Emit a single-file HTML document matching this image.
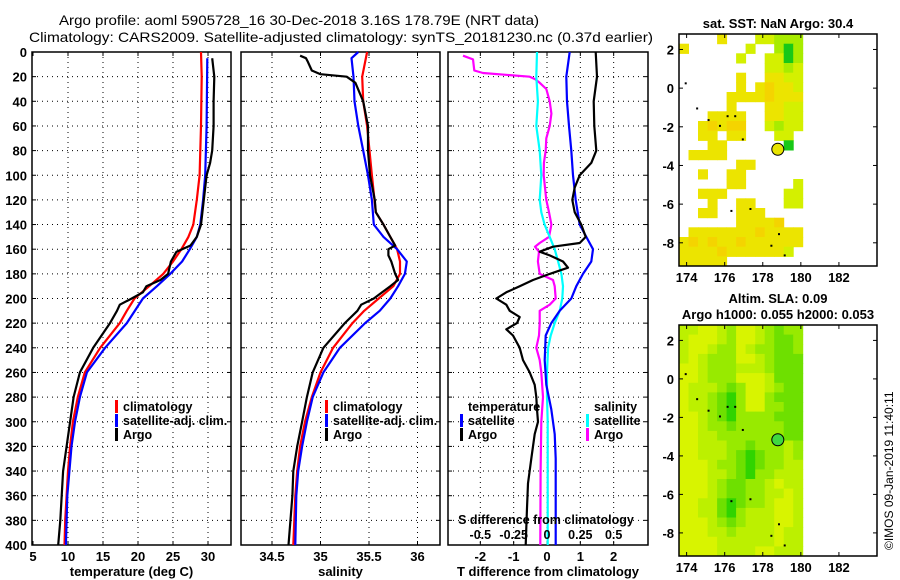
<!DOCTYPE html>
<html><head><meta charset="utf-8"><style>
html,body{margin:0;padding:0;background:#fff;}
svg{display:block;font-family:"Liberation Sans",sans-serif;}
text{font-weight:bold;fill:#000;}
</style></head><body>
<svg id="chart" width="900" height="580" viewBox="0 0 900 580" xmlns="http://www.w3.org/2000/svg">
<rect x="0" y="0" width="900" height="580" fill="#fff"/>
<text x="59" y="25" font-size="14" textLength="480" lengthAdjust="spacingAndGlyphs" style="font-weight:normal">Argo profile: aoml 5905728_16 30-Dec-2018 3.16S 178.79E (NRT data)</text>
<text x="29" y="42" font-size="14" textLength="624" lengthAdjust="spacingAndGlyphs" style="font-weight:normal">Climatology: CARS2009. Satellite-adjusted climatology: synTS_20181230.nc (0.37d earlier)</text>
<g id="layer"></g>
<text transform="translate(893,550) rotate(-90)" font-size="12" style="font-weight:normal">©IMOS 09-Jan-2019 11:40:11</text>
</svg>
<script>
// ---------- data ----------
const depthTicks=[0,20,40,60,80,100,120,140,160,180,200,220,240,260,280,300,320,340,360,380,400];
const tempTicks=[5,10,15,20,25,30];
const salTicks=[34.5,35,35.5,36];
const tdiffTicks=[-2,-1,0,1,2];
const sdiffTicks=[-0.5,-0.25,0,0.25,0.5];
const lonTicks=[174,176,178,180,182];
const latTicks=[2,0,-2,-4,-6,-8];

const tClimDepth=[0,20,60,100,120,140,150,160,170,180,190,200,210,220,240,260,280,300,320,340,360,380,400];
const tClimVal=[29,29.1,29,28.8,28.4,27.9,27.2,26.2,25,23.6,21.6,19.5,18.4,17.4,14.6,12.4,11.4,10.7,10.3,10.0,9.8,9.6,9.5];
const tSatDepth=[5,60,100,120,140,150,160,170,180,190,200,220,240,260,280,300,320,340,360,400];
const tSatVal=[29.9,29.8,29.6,29.3,28.9,28.4,27.4,26.3,24.6,22.7,20.7,18.4,15.3,12.7,11.7,11,10.5,10.2,9.9,9.7];
const tArgoDepth=[5,20,40,60,80,90,100,120,140,150,157,162,170,180,185,190,195,200,205,210,220,240,260,280,300,320,340,360,380,400];
const tArgoVal=[30.6,30.9,30.8,30.8,30.6,30.3,29.8,29.4,29,28.4,27.5,25.5,24.7,24.3,23.2,21.2,20.7,19.1,17.4,17,16,13.6,11.7,10.8,10.3,9.8,9.3,9.1,8.9,8.6];

const sClimDepth=[0,20,40,60,100,130,140,150,160,170,180,190,200,210,220,240,260,280,300,320,340,360,400];
const sClimVal=[35.48,35.43,35.44,35.48,35.53,35.57,35.65,35.72,35.79,35.82,35.82,35.75,35.6,35.45,35.33,35.13,35.0,34.91,34.84,34.79,34.76,34.74,34.72];
const sSatDepth=[0,5,20,40,60,80,100,120,140,150,160,170,180,190,200,210,220,240,260,280,300,320,340,360,400];
const sSatVal=[35.39,35.32,35.34,35.35,35.39,35.44,35.49,35.53,35.55,35.65,35.79,35.89,35.87,35.8,35.72,35.61,35.46,35.2,35.03,34.92,34.86,34.81,34.77,34.75,34.74];
const sArgoDepth=[3,5,8,15,18,20,25,40,60,80,100,120,130,140,150,157,160,165,170,180,185,190,200,205,210,220,240,260,280,300,320,340,360,400];
const sArgoVal=[34.79,34.85,34.87,34.91,35.0,35.27,35.36,35.44,35.49,35.49,35.51,35.56,35.57,35.65,35.72,35.77,35.7,35.7,35.73,35.77,35.8,35.72,35.55,35.42,35.38,35.25,35.03,34.92,34.86,34.81,34.76,34.72,34.71,34.67];

const dTSatDepth=[0,20,40,60,80,100,120,140,150,160,170,180,190,200,210,220,230,250,270,290,310,330,360,400];
const dTSatVal=[0.68,0.58,0.6,0.66,0.73,0.78,0.86,0.98,1.18,1.38,1.33,1.08,0.88,0.73,0.38,0.13,-0.04,-0.07,-0.02,0.13,0.23,0.26,0.26,0.26];
const dTArgoDepth=[0,20,40,60,80,90,100,110,120,130,140,150,155,158,162,165,170,175,180,185,190,195,200,205,210,215,220,225,230,240,250,260,270,280,290,300,310,330,350,370,400];
const dTArgoVal=[1.46,1.5,1.4,1.42,1.48,1.33,0.98,0.83,0.76,0.83,1.03,1.16,0.98,0.18,-0.22,0.08,0.48,0.63,0.08,-0.42,-0.82,-1.22,-1.52,-1.22,-1.12,-0.82,-0.9,-1.22,-1.02,-0.82,-0.72,-0.52,-0.37,-0.32,-0.3,-0.27,-0.37,-0.47,-0.57,-0.6,-0.64];
const dSSatDepth=[0,20,40,60,80,100,120,130,140,150,160,170,180,190,200,210,220,230,240,260,280,300,400];
const dSSatVal=[-0.075,-0.08,-0.068,-0.08,-0.055,-0.043,-0.055,-0.043,-0.018,0.02,0.058,0.083,0.108,0.12,0.115,0.095,0.058,0.028,0.008,0,0,0.005,0.005];
const dSArgoDepth=[3,6,15,17,20,22,25,30,40,50,60,70,80,90,100,120,130,140,150,155,158,162,170,180,185,190,200,205,210,220,230,240,250,260,280,300,340,400];
const dSArgoVal=[-0.63,-0.555,-0.545,-0.48,-0.13,-0.09,-0.055,-0.005,0.02,0.033,0.02,-0.005,-0.01,-0.023,-0.025,-0.005,0.015,0.033,0.015,-0.055,-0.09,-0.06,-0.068,-0.055,0.045,0.058,0.065,0.02,-0.055,-0.055,-0.06,-0.08,-0.055,-0.043,-0.03,-0.043,-0.048,-0.05];

const argoLon=178.79, argoLat=-3.16;
// SST map cells (0.5 deg, lon 173.6.., lat 2.8 downward)
const sstRows=[
"....y...llggg",
"y......l..gGg",
"......l..llGg",
".........llgl",
"......y..yyll",
"......y.yoyyl",
".....yyyyoyyy",
".....y...yyll",
"...yyyy..yyll",
"..yoyoo..lgll",
"..yy.yy...ll.",
"...yy......G.",
".yyyy........",
"......yy.....",
"..y..yy......",
".....yy.....l",
"..yyy......ll",
"...y..yy...ll",
"..yy..yyy....",
"......yyyyo..",
".yyyyyyyoyyyy",
"yoyoyyoyyyyyy",
"yyyyoyyyyyyl.",
"yyyyy........"];
const slaRows=[
"llyylgyylgmgg",
"lyyylgyylgmmg",
"lyylggylggmmg",
"lylgggyylgmmm",
"yylggglllgmmm",
"yylgggyyylmmm",
"ylllgmgyylgmm",
"yllgmGgyygmmm",
"yllgmGgyyggmm",
"yylgmGggggmmm",
"yylggmgggggmm",
"yyllgggggggmm",
"yylllggmggglg",
"yylllgmGmgglg",
"yyylggmGmggll",
"yyyllgmGgglll",
"yyylgmmgglyll",
"yyylgmmggllyl",
"yyllmGmgglyyl",
"yyllmGglllyyl",
"yyylgmglllyyl",
"yyyllgllllyll",
"yyyyllllllyll",
"yyyyllllyylll"];
const sstColors={y:"#ece400",o:"#f4d400",l:"#d4f000",g:"#a8ec00",G:"#18c818"};
const slaColors={y:"#d8f400",l:"#bcf000",g:"#98ea00",m:"#6ee000",G:"#30d400"};

// ---------- drawing ----------
const NS="http://www.w3.org/2000/svg";
const layer=document.getElementById('layer');
function mk(tag,attrs,parent){const e=document.createElementNS(NS,tag);for(const k in attrs)e.setAttribute(k,attrs[k]);(parent||layer).appendChild(e);return e;}
function txt(x,y,s,size,anchor,name,parent){const t=mk('text',{x:x,y:y,'font-size':size,'text-anchor':anchor||'middle'},parent);t.textContent=s;


return t;}

const Y0=52,Y1=545;
function yD(d){return Y0+(Y1-Y0)*d/400;}
const panels=[
 {name:'temperature-panel',x0:32,x1:231,min:5-1/7,max:5+198/7,ticks:tempTicks,lab:'temperature (deg C)'},
 {name:'salinity-panel',x0:241,x1:440,min:34.5-31/97,max:34.5+168/97,ticks:salTicks,lab:'salinity'},
 {name:'difference-panel',x0:448,x1:648,min:-2.97,max:3.03,ticks:tdiffTicks,lab:'T difference from climatology'}];
function xf(p){return v=>p.x0+(p.x1-p.x0)*(v-p.min)/(p.max-p.min);}

panels.forEach((p,i)=>{
 const g=mk('g',{});
 
 
 const X=xf(p);
 depthTicks.forEach(d=>{ if(d>0&&d<400){const l=mk('line',{x1:p.x0,x2:p.x1,y1:yD(d),y2:yD(d),stroke:'#000','stroke-width':1,'stroke-dasharray':'1,4'},g);
   
   }
   mk('line',{x1:p.x0,x2:p.x0+4,y1:yD(d),y2:yD(d),stroke:'#000'},g);mk('line',{x1:p.x1-4,x2:p.x1,y1:yD(d),y2:yD(d),stroke:'#000'},g);
 });
 p.ticks.forEach(v=>{const x=X(v);
   if(x>p.x0+2&&x<p.x1-2){const l=mk('line',{x1:x,x2:x,y1:Y0,y2:Y1,stroke:'#000','stroke-dasharray':'1,4'},g);
   
   }
   mk('line',{x1:x,x2:x,y1:Y1-4,y2:Y1,stroke:'#000'},g);mk('line',{x1:x,x2:x,y1:Y0,y2:Y0+4,stroke:'#000'},g);
   txt(x,561,String(v),13,'middle','x-tick-label',g);
 });
 const r=mk('rect',{x:p.x0,y:Y0,width:p.x1-p.x0,height:Y1-Y0,fill:'none',stroke:'#000','stroke-width':1.5},g);
 
 
 txt((p.x0+p.x1)/2,576,p.lab,13,'middle','x-axis-title',g);
});
depthTicks.forEach(d=>txt(27,yD(d)+5,String(d),13,'end','y-tick-label'));

function series(depths,vals,X,color,name,w){
 const pts=depths.map((d,i)=>X(vals[i]).toFixed(1)+','+yD(d).toFixed(1)).join(' ');
 const e=mk('polyline',{points:pts,fill:'none',stroke:color,'stroke-width':w||2.2,'stroke-linejoin':'round'});
 
 
}
const XT=xf(panels[0]),XS=xf(panels[1]),XD=xf(panels[2]);
const XDS=v=>XD(v*4);
series(tClimDepth,tClimVal,XT,'#ff0000','temp-climatology-line');
series(tSatDepth,tSatVal,XT,'#0000ff','temp-satellite-line');
series(tArgoDepth,tArgoVal,XT,'#000','temp-argo-line');
series(sClimDepth,sClimVal,XS,'#ff0000','sal-climatology-line');
series(sSatDepth,sSatVal,XS,'#0000ff','sal-satellite-line');
series(sArgoDepth,sArgoVal,XS,'#000','sal-argo-line');
series(dSArgoDepth,dSArgoVal,XDS,'#ff00ff','sdiff-argo-line');
series(dSSatDepth,dSSatVal,XDS,'#00ffff','sdiff-satellite-line');
series(dTSatDepth,dTSatVal,XD,'#0000ff','tdiff-satellite-line');
series(dTArgoDepth,dTArgoVal,XD,'#000','tdiff-argo-line');

// legends
function legend(x,y,color,label,name){const g=mk('g',{});
 
 
 if(color)mk('rect',{x:x-8,y:y-11,width:3,height:13,fill:color},g);
 const t=mk('text',{x:x,y:y,'font-size':12.5},g);t.textContent=label;}
legend(123,411,'#ff0000','climatology','legend-temp-climatology');
legend(123,425,'#0000ff','satellite-adj. clim.','legend-temp-satellite');
legend(123,439,'#000','Argo','legend-temp-argo');
legend(333,411,'#ff0000','climatology','legend-sal-climatology');
legend(333,425,'#0000ff','satellite-adj. clim.','legend-sal-satellite');
legend(333,439,'#000','Argo','legend-sal-argo');
legend(468,411,null,'temperature','legend-tdiff-header');
legend(468,425,'#0000ff','satellite','legend-tdiff-satellite');
legend(468,439,'#000','Argo','legend-tdiff-argo');
legend(594,411,null,'salinity','legend-sdiff-header');
legend(594,425,'#00ffff','satellite','legend-sdiff-satellite');
legend(594,439,'#ff00ff','Argo','legend-sdiff-argo');
txt(546,524,'S difference from climatology',12.5,'middle','s-diff-axis-title');
sdiffTicks.forEach(v=>txt(XDS(v),539,String(v),12.5,'middle','s-diff-tick-label'));

// maps
const LON0=173.6,LON1=184.0,LAT0=2.8,LAT1=-9.2;
function drawMap(top,bottom,rows,colors,markerColor,name,titleLines){
 const g=mk('g',{});
 
 
 const L=679,R=877;
 const X=lon=>L+(R-L)*(lon-LON0)/(LON1-LON0);
 const Y=lat=>top+(bottom-top)*(LAT0-lat)/(LAT0-LAT1);
 rows.forEach((row,r)=>{for(let c=0;c<row.length;c++){const ch=row[c];if(colors[ch]){
   const lon=LON0+c*0.5,lat=LAT0-r*0.5;
   const cell=mk('rect',{x:X(lon).toFixed(1),y:Y(lat).toFixed(1),width:(X(lon+0.5)-X(lon)+0.5).toFixed(1),height:(Y(lat-0.5)-Y(lat)+0.5).toFixed(1),fill:colors[ch]},g);
   
   }}});
 // tiny island marks
 [[173.9,0.3],[174.5,-1.0],[175.1,-1.6],[175.7,-1.9],[176.1,-1.4],[176.5,-1.4],[176.9,-2.6],[177.3,-6.2],[176.3,-6.3],[178.4,-8.1],[179.1,-8.6],[178.8,-7.5]].forEach(p=>{
   mk('rect',{x:X(p[0]),y:Y(p[1]),width:2,height:2,fill:'#000'},g);});
 const m=mk('circle',{cx:X(argoLon),cy:Y(argoLat),r:6,fill:markerColor,stroke:'#000','stroke-width':1},g);
 
 
 mk('rect',{x:L,y:top,width:R-L,height:bottom-top,fill:'none',stroke:'#000','stroke-width':1.5},g);
 lonTicks.forEach(v=>{const x=X(v);mk('line',{x1:x,x2:x,y1:bottom-4,y2:bottom,stroke:'#000'},g);mk('line',{x1:x,x2:x,y1:top,y2:top+4,stroke:'#000'},g);
   txt(x,bottom+16,String(v),13,'middle','map-lon-tick-label',g);});
 latTicks.forEach(v=>{const y=Y(v);mk('line',{x1:L,x2:L+4,y1:y,y2:y,stroke:'#000'},g);mk('line',{x1:R-4,x2:R,y1:y,y2:y,stroke:'#000'},g);
   txt(674,y+5,String(v),13,'end','map-lat-tick-label',g);});
 titleLines.forEach((t,i)=>txt(778,top-(titleLines.length-1-i)*16-6,t,13,'middle','map-title',g));
}
drawMap(34,266,sstRows,sstColors,'#e8e400','sst-map',['sat. SST: NaN Argo: 30.4']);
drawMap(325,556,slaRows,slaColors,'#40d840','sla-map',['Altim. SLA: 0.09','Argo h1000: 0.055 h2000: 0.053']);
</script>
</body></html>
